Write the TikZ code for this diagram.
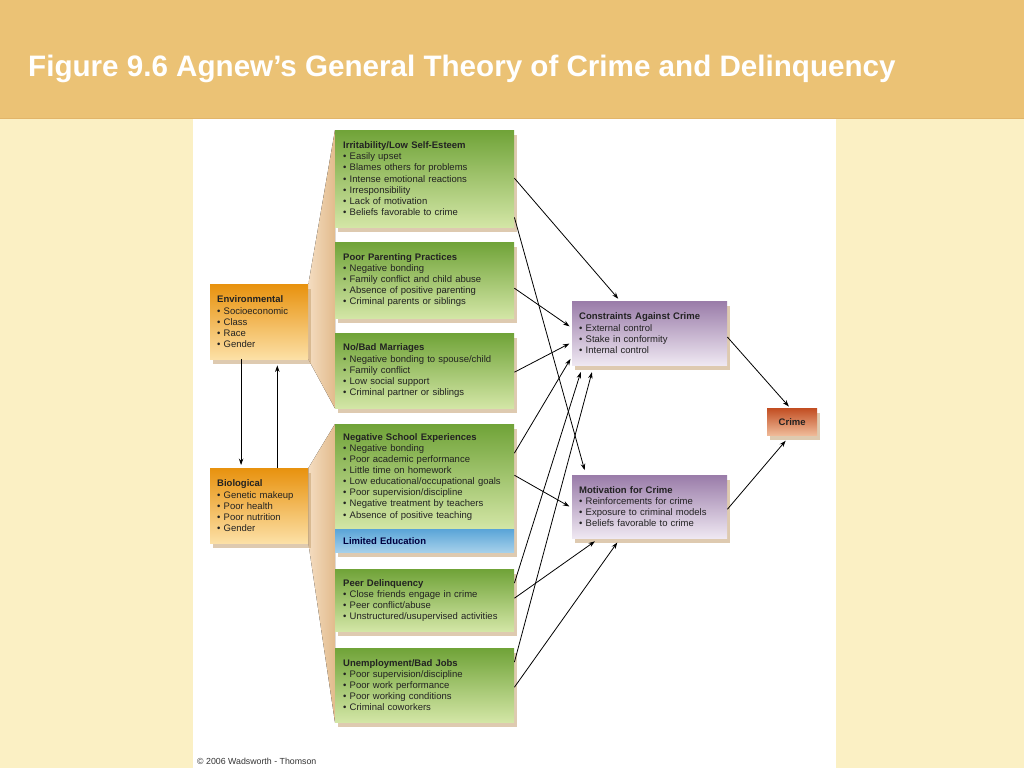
\documentclass[tikz,border=0pt]{standalone}
\usepackage{fontspec}
\setmainfont{Liberation Sans}
\usepackage{xcolor}
\usetikzlibrary{arrows.meta,calc,shadows,positioning}
\definecolor{band}{HTML}{EBC275}
\definecolor{paper}{HTML}{FBF0C4}
\definecolor{greentop}{HTML}{70A338}
\definecolor{greenbot}{HTML}{D3E6A6}
\definecolor{orangetop}{HTML}{E8920E}
\definecolor{orangebot}{HTML}{FCE0A6}
\definecolor{purpletop}{HTML}{9A7CA9}
\definecolor{purplebot}{HTML}{EFE8F2}
\definecolor{crimetop}{HTML}{C24E22}
\definecolor{crimebot}{HTML}{EFBA98}
\definecolor{bluetop}{HTML}{5AA5D8}
\definecolor{bluebot}{HTML}{A6D0EA}
\definecolor{shadowtan}{HTML}{C4A070}
\definecolor{fanlight}{HTML}{F4DCC0}
\definecolor{fandark}{HTML}{E2BB8C}
\definecolor{boxtext}{HTML}{222222}
\pgfdeclarelayer{bg}
\pgfsetlayers{bg,main}
\tikzset{
	agnew/.style={x=1pt,y=-1pt,
		ar/.style={-{Stealth[length=6.5pt,width=4.5pt]},line width=.8pt},
		fan/.style={left color=fanlight,right color=fandark}},
	box/.style={anchor=north west,align=left,inner xsep=7pt,inner ysep=0pt,
		text=boxtext,font=\fontsize{9.5}{11.1}\selectfont,
		drop shadow={shadow xshift=3pt,shadow yshift=-5pt,fill=shadowtan,opacity=.55}},
	green box/.style={box,top color=greentop,bottom color=greenbot,
		text width=163pt,inner xsep=8pt,minimum height=#1},
	orange box/.style={box,top color=orangetop,bottom color=orangebot,
		text width=84pt,minimum height=#1},
	purple box/.style={box,top color=purpletop,bottom color=purplebot,
		text width=141pt,minimum height=#1}
}
\newcommand{\hd}[1]{\textbf{#1}}
\begin{document}
\begin{tikzpicture}[agnew]
	\useasboundingbox (0,0) rectangle (1024,768);
	\begin{pgfonlayer}{bg}
		\fill[paper] (0,118) rectangle (1024,768);
		\fill[band] (0,0) rectangle (1024,118);
		\draw[band!80!brown,line width=1pt] (0,118) -- (1024,118);
		\fill[white] (193,119) rectangle (836,768);
	\end{pgfonlayer}
	\node[anchor=base west,inner sep=0pt,text=white,font=\fontsize{29.6}{34}\selectfont\bfseries] (title) at (28,76)
		{Figure 9.6 Agnew’s General Theory of Crime and Delinquency};
	% left column
	\path node[orange box=75pt] (env) at (210,284) {\hd{Environmental}\\• Socioeconomic\\• Class\\• Race\\• Gender}
		node[orange box=75pt] (bio) at (210,468) {\hd{Biological}\\• Genetic makeup\\• Poor health\\• Poor nutrition\\• Gender};
	% middle column
	\path node[green box=97pt] (irr) at (335,130) {\hd{Irritability/Low Self-Esteem}\\• Easily upset\\• Blames others for problems\\• Intense emotional reactions\\• Irresponsibility\\• Lack of motivation\\• Beliefs favorable to crime}
		node[green box=76pt] (par) at (335,242) {\hd{Poor Parenting Practices}\\• Negative bonding\\• Family conflict and child abuse\\• Absence of positive parenting\\• Criminal parents or siblings}
		node[green box=75pt] (mar) at (335,333) {\hd{No/Bad Marriages}\\• Negative bonding to spouse/child\\• Family conflict\\• Low social support\\• Criminal partner or siblings}
		node[green box=105pt] (sch) at (335,424) {\hd{Negative School Experiences}\\• Negative bonding\\• Poor academic performance\\• Little time on homework\\• Low educational/occupational goals\\• Poor supervision/discipline\\• Negative treatment by teachers\\• Absence of positive teaching}
		node[green box=23pt,top color=bluetop,bottom color=bluebot,text=blue!25!black] (edu) at (335,529) {\hd{Limited Education}}
		node[green box=62pt] (peer) at (335,569) {\hd{Peer Delinquency}\\• Close friends engage in crime\\• Peer conflict/abuse\\• Unstructured/usupervised activities}
		node[green box=74pt] (job) at (335,648) {\hd{Unemployment/Bad Jobs}\\• Poor supervision/discipline\\• Poor work performance\\• Poor working conditions\\• Criminal coworkers};
	% right column
	\path node[purple box=64pt] (con) at (572,301) {\hd{Constraints Against Crime}\\• External control\\• Stake in conformity\\• Internal control}
		node[purple box=63pt] (mot) at (572,475) {\hd{Motivation for Crime}\\• Reinforcements for crime\\• Exposure to criminal models\\• Beliefs favorable to crime}
		node[box,top color=crimetop,bottom color=crimebot,align=center,inner xsep=0pt,text width=50pt,minimum height=27pt] (crime) at (767,408) {\hd{Crime}};
	% fans behind the green boxes
	\begin{pgfonlayer}{bg}
		\fill[fan] (env.north east) -- (irr.north west) -- (mar.south west) -- (env.south east) -- cycle;
		\fill[fan] (bio.north east) -- (sch.north west) -- (job.south west) -- (bio.south east) -- cycle;
	\end{pgfonlayer}
	% connectors
	\draw[ar,shorten >=3pt] ($(env.south west)!.316!(env.south east)$) -- ($(bio.north west)!.316!(bio.north east)$);
	\draw[ar,shorten >=6pt] ($(bio.north west)!.684!(bio.north east)$) -- ($(env.south west)!.684!(env.south east)$);
	\draw[ar,shorten >=3pt] ($(irr.north east)!.495!(irr.south east)$) -- ($(con.north west)!.31!(con.north east)$);
	\draw[ar,shorten >=5pt] ($(irr.north east)!.897!(irr.south east)$) -- ($(mot.north west)!.09!(mot.north east)$);
	\draw[ar,shorten >=3pt] ($(par.north east)!.605!(par.south east)$) -- ($(con.north west)!.42!(con.south west)$);
	\draw[ar,shorten >=3pt] ($(mar.north east)!.52!(mar.south east)$) -- ($(con.north west)!.64!(con.south west)$);
	\draw[ar,shorten >=3pt] ($(sch.north east)!.276!(sch.south east)$) -- ($(con.north west)!.86!(con.south west)$);
	\draw[ar,shorten >=3pt] ($(sch.north east)!.486!(sch.south east)$) -- ($(mot.north west)!.52!(mot.south west)$);
	\draw[ar,shorten >=7pt] ($(peer.north east)!.226!(peer.south east)$) -- ($(con.south west)!.07!(con.south east)$);
	\draw[ar,shorten >=7pt] ($(job.north east)!.19!(job.south east)$) -- ($(con.south west)!.14!(con.south east)$);
	\draw[ar,shorten >=5pt] ($(peer.north east)!.468!(peer.south east)$) -- ($(mot.south west)!.174!(mot.south east)$);
	\draw[ar,shorten >=5pt] ($(job.north east)!.527!(job.south east)$) -- ($(mot.south west)!.31!(mot.south east)$);
	\draw[ar,shorten >=2pt] ($(con.north east)!.56!(con.south east)$) -- ($(crime.north west)!.46!(crime.north east)$);
	\draw[ar,shorten >=7pt] ($(mot.north east)!.54!(mot.south east)$) -- ($(crime.south west)!.46!(crime.south east)$);
	\node[anchor=base west,inner sep=0pt,text=black!80,font=\fontsize{8.8}{10}\selectfont] (credit) at (197,764) {© 2006 Wadsworth - Thomson};
\end{tikzpicture}
\end{document}
